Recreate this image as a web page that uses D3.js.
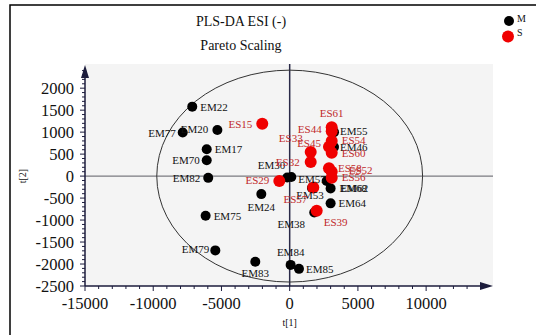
<!DOCTYPE html>
<html>
<head>
<meta charset="utf-8">
<script src="https://cdn.jsdelivr.net/npm/d3@7"></script>
<style>
  html, body { margin: 0; padding: 0; background: #fff; }
  svg { display: block; }
  text { font-family: "Liberation Serif", "Times New Roman", serif; }
</style>
</head>
<body>
<svg id="chart" width="536" height="335"></svg>
<script>
// Scores of the PLS-DA model (component 1 vs component 2)
const mNames = ["EM22","EM77","EM20","EM17","EM70","EM82","EM75","EM24","EM79","EM83","EM84","EM85",
                "EM30","EM57","EM53","EM38","EM55","EM46","EM62","EM68","EM64"];
const mT1 = [-7140,-7840,-5300,-6080,-6080,-5970,-6160,-2080,-5450,-2520,70,680,
             -180,120,1630,1800,3250,3250,2710,3000,3000];
const mT2 = [1580,990,1050,610,360,-40,-900,-410,-1690,-1950,-2020,-2110,
             -30,-20,-270,-830,1000,660,-110,-280,-620];

const sNames = ["ES15","ES29","ES32","ES33","ES45","ES61","ES44","ES54","ES60","ES58","ES52","ES56","ES57","ES39"];
const sT1 = [-2010,-760,1540,1540,2880,3080,3080,3080,3080,2880,3080,3080,1730,1980];
const sT2 = [1190,-110,320,550,670,1110,1020,800,530,180,100,-40,-260,-790];

const xMajor = [-15000,-10000,-5000,0,5000,10000];
const yMajor = [-2500,-2000,-1500,-1000,-500,0,500,1000,1500,2000];
const groups = ["M","S"];
const ellipseT1 = 9740, ellipseT2 = 2410;   // Hotelling T2 (95%) radii

// label placement: [dx, dy, anchor]
const labelPlace = {
  EM22:[8,4,"start"], EM77:[-7,4,"end"], EM20:[-9,3,"end"], EM17:[8,4,"start"],
  EM70:[-7,4,"end"], EM82:[-8,4,"end"], EM75:[8,4,"start"], EM24:[0,17,"middle"],
  EM79:[-6,3,"end"], EM83:[0,15,"middle"], EM84:[0,-9,"middle"], EM85:[7,4,"start"],
  EM30:[-2,-8,"end"], EM57:[7,6,"start"], EM53:[-2,11,"middle"], EM38:[-23,15,"middle"],
  EM55:[6,3,"start"], EM46:[6,4,"start"], EM62:[14,11,"start"], EM68:[9,4,"start"],
  EM64:[8,4,"start"],
  ES15:[-10,4,"end"], ES29:[-10,3,"end"], ES32:[-11,4,"end"], ES33:[-8,-10,"end"],
  ES45:[-8,0,"end"], ES61:[0,-10,"middle"], ES44:[-10,2,"end"], ES54:[10,3,"start"],
  ES60:[10,4,"start"], ES58:[9,4,"start"], ES52:[17,2,"start"], ES56:[10,3,"start"],
  ES57:[-6,15,"end"], ES39:[7,15,"start"]
};

const svg = d3.select("#chart");
const axisCol = "#1c1c3c";
const labelRed = "#c0282a";

const x = d3.scaleLinear().domain([-15000, 14900]).range([85, 493]);
const y = d3.scaleLinear().domain([-2500, 2550]).range([286, 64]);

// outer frame
svg.append("rect").attr("x", 10).attr("y", 5).attr("width", 600).attr("height", 400)
  .attr("fill", "none").attr("stroke", "#000").attr("stroke-width", 1.5);

// plot background
svg.append("rect").attr("x", x(-15000)).attr("y", y(2550))
  .attr("width", x(14900) - x(-15000)).attr("height", y(-2500) - y(2550))
  .attr("fill", "#f4f4f4");

// titles
svg.append("text").attr("x", 241).attr("y", 26).attr("text-anchor", "middle")
  .attr("font-size", 14).attr("fill", "#111").text("PLS-DA ESI (-)");
svg.append("text").attr("x", 241).attr("y", 50).attr("text-anchor", "middle")
  .attr("font-size", 14).attr("fill", "#111").text("Pareto Scaling");

// zero lines
svg.append("line").attr("x1", x(-15000)).attr("x2", x(14900)).attr("y1", y(0)).attr("y2", y(0))
  .attr("stroke", "#7a7a80").attr("stroke-width", 1.3);
svg.append("line").attr("x1", x(0)).attr("x2", x(0)).attr("y1", y(2550)).attr("y2", y(-2500))
  .attr("stroke", "#2a2a48").attr("stroke-width", 1.5);

// confidence ellipse
svg.append("ellipse").attr("cx", x(0)).attr("cy", y(0))
  .attr("rx", x(ellipseT1) - x(0)).attr("ry", y(0) - y(ellipseT2))
  .attr("fill", "none").attr("stroke", "#333").attr("stroke-width", 1);

// x axis
const xMinor = d3.range(-15000, 13001, 1000);
const gx = svg.append("g").attr("transform", `translate(0,${y(-2500)})`);
gx.append("line").attr("x1", x(-15000)).attr("x2", x(14900) - 6)
  .attr("stroke", axisCol).attr("stroke-width", 1.5);
gx.append("path").attr("d", `M${x(14900)},0 L${x(14900) - 13},-4 L${x(14900) - 13},4 Z`).attr("fill", axisCol);
gx.selectAll("line.mn").data(xMinor).join("line").attr("class", "mn")
  .attr("x1", d => x(d)).attr("x2", d => x(d)).attr("y1", 0)
  .attr("y2", d => xMajor.includes(d) ? 5 : 3).attr("stroke", axisCol);
gx.selectAll("text").data(xMajor).join("text")
  .attr("x", d => x(d)).attr("y", 23).attr("text-anchor", "middle")
  .attr("font-size", 16.5).attr("fill", "#111").text(d => d);
svg.append("text").attr("x", x(0)).attr("y", 326).attr("text-anchor", "middle")
  .attr("font-size", 10).attr("fill", "#111").text("t[1]");

// y axis
const yMinor = d3.range(-2500, 2401, 100);
const gy = svg.append("g").attr("transform", `translate(${x(-15000)},0)`);
gy.append("line").attr("y1", y(-2500)).attr("y2", y(2550) + 6)
  .attr("stroke", axisCol).attr("stroke-width", 1.5);
gy.append("path").attr("d", `M0,${y(2550) + 1} L-4,${y(2550) + 14} L4,${y(2550) + 14} Z`).attr("fill", axisCol);
gy.selectAll("line.mn").data(yMinor).join("line").attr("class", "mn")
  .attr("y1", d => y(d)).attr("y2", d => y(d)).attr("x1", 0)
  .attr("x2", d => yMajor.includes(d) ? -5 : -3).attr("stroke", axisCol);
gy.selectAll("text").data(yMajor).join("text")
  .attr("x", -11).attr("y", d => y(d) + 5.5).attr("text-anchor", "end")
  .attr("font-size", 16.5).attr("fill", "#111").text(d => d);
svg.append("text").attr("transform", `translate(26,${y(0)}) rotate(-90)`)
  .attr("text-anchor", "middle").attr("font-size", 10).attr("fill", "#111").text("t[2]");

// points
const mData = mNames.map((n, i) => ({ n, t1: mT1[i], t2: mT2[i] }));
const sData = sNames.map((n, i) => ({ n, t1: sT1[i], t2: sT2[i] }));

svg.append("g").selectAll("circle").data(mData).join("circle")
  .attr("cx", d => x(d.t1)).attr("cy", d => y(d.t2)).attr("r", 5).attr("fill", "#000");
svg.append("g").selectAll("circle").data(sData).join("circle")
  .attr("cx", d => x(d.t1)).attr("cy", d => y(d.t2)).attr("r", 6).attr("fill", "#f00000");

function addLabels(data, color) {
  svg.append("g").selectAll("text").data(data).join("text")
    .attr("x", d => x(d.t1) + labelPlace[d.n][0])
    .attr("y", d => y(d.t2) + labelPlace[d.n][1])
    .attr("text-anchor", d => labelPlace[d.n][2])
    .attr("font-size", 11).attr("fill", color).text(d => d.n);
}
addLabels(mData, "#111");
addLabels(sData, labelRed);

// legend
const leg = svg.append("g");
leg.selectAll("circle").data(groups).join("circle")
  .attr("cx", (d, i) => 509 - i).attr("cy", (d, i) => 21 + i * 15.5)
  .attr("r", (d, i) => i ? 6 : 5).attr("fill", (d, i) => i ? "#f00000" : "#000");
leg.selectAll("text").data(groups).join("text")
  .attr("x", 517).attr("y", (d, i) => 22 + i * 14)
  .attr("font-size", 10).attr("fill", "#111").text(d => d);
</script>
</body>
</html>
